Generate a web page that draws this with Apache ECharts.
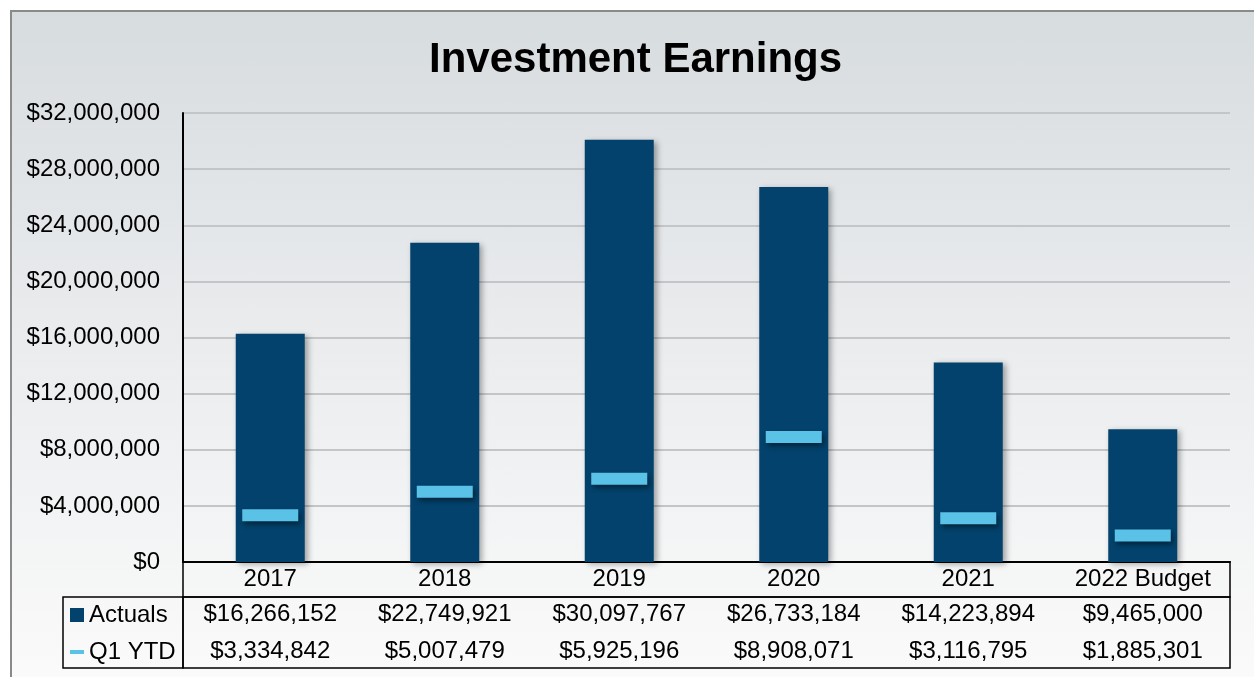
<!DOCTYPE html>
<html>
<head>
<meta charset="utf-8">
<title>Investment Earnings</title>
<script src="https://cdn.jsdelivr.net/npm/echarts@6/dist/echarts.min.js"></script>
</head>
<body style="margin:0; width:1254px; height:677px; overflow:hidden; background:#fff">
<div style="position:absolute; left:10px; top:10px; width:1260px; height:680px; border-left:2px solid #8a8a8a; border-top:2px solid #8a8a8a; background:linear-gradient(to bottom, #d7dcdf 0%, #e9ebed 45%, #fbfbfb 100%)"></div>
<div id="container" style="position:absolute; left:0; top:0; width:1254px; height:677px"></div>
<script type="text/javascript">
// data
var categories = ['2017', '2018', '2019', '2020', '2021', '2022 Budget'];
var actuals = [16266152, 22749921, 30097767, 26733184, 14223894, 9465000];
var q1ytd = [3334842, 5007479, 5925196, 8908071, 3116795, 1885301];

var FONT = '"Liberation Sans", Arial, sans-serif';

function money(v) {
	return '$' + Number(v).toLocaleString('en-US');
}

var myChart = echarts.init(document.getElementById('container'));

var option = {
	backgroundColor : 'transparent',
	animation : false,
	title : {
		text : 'Investment Earnings',
		left : 424,
		top : 34,
		textStyle : {
			fontFamily : FONT,
			fontSize : 42,
			fontWeight : 'bold',
			color : '#000'
		}
	},
	legend : {
		orient : 'vertical',
		left : 65,
		top : 598,
		itemWidth : 14,
		itemHeight : 14,
		itemGap : 13,
		selectedMode : false,
		textStyle : {
			fontFamily : FONT,
			fontSize : 24,
			color : '#000'
		},
		data : [ {
			name : 'Actuals',
			icon : 'rect'
		}, {
			name : 'Q1 YTD',
			icon : 'path://M0,0H14V4H0Z'
		} ]
	},
	grid : [ {
		// plot area
		left : 183,
		right : 24,
		top : 113,
		bottom : 115
	}, {
		// header row of the data table
		left : 183,
		right : 24,
		top : 562,
		height : 35,
		show : true,
		borderColor : '#000',
		borderWidth : 1.5,
		backgroundColor : 'transparent'
	}, {
		// value rows of the data table
		left : 183,
		right : 24,
		top : 597,
		height : 71,
		show : true,
		borderColor : '#000',
		borderWidth : 1.5,
		backgroundColor : 'transparent'
	}, {
		// legend column
		left : 63,
		width : 120,
		top : 597,
		height : 71,
		show : true,
		borderColor : '#000',
		borderWidth : 1.5,
		backgroundColor : 'transparent'
	} ],
	xAxis : [ {
		type : 'category',
		gridIndex : 0,
		data : categories,
		axisLine : {
			lineStyle : {
				color : '#000',
				width : 2
			}
		},
		axisTick : {
			show : false
		},
		axisLabel : {
			interval : 0,
			margin : 5,
			fontFamily : FONT,
			fontSize : 24,
			color : '#000'
		}
	}, {
		type : 'category',
		gridIndex : 1,
		data : categories,
		show : false
	}, {
		type : 'category',
		gridIndex : 2,
		position : 'top',
		data : categories,
		axisLine : {
			show : false
		},
		axisTick : {
			show : false
		},
		axisLabel : {
			interval : 0,
			inside : true,
			margin : 5,
			fontFamily : FONT,
			fontSize : 24,
			color : '#000',
			formatter : function(v, i) {
				return money(actuals[i]);
			}
		}
	}, {
		type : 'category',
		gridIndex : 2,
		position : 'bottom',
		data : categories,
		axisLine : {
			show : false
		},
		axisTick : {
			show : false
		},
		axisLabel : {
			interval : 0,
			inside : true,
			margin : 5,
			fontFamily : FONT,
			fontSize : 24,
			color : '#000',
			formatter : function(v, i) {
				return money(q1ytd[i]);
			}
		}
	}, {
		type : 'category',
		gridIndex : 3,
		data : ['a'],
		show : false
	} ],
	yAxis : [ {
		type : 'value',
		gridIndex : 0,
		min : 0,
		max : 32000000,
		interval : 4000000,
		axisLine : {
			show : true,
			lineStyle : {
				color : '#000',
				width : 2
			}
		},
		axisTick : {
			show : false
		},
		splitLine : {
			lineStyle : {
				color : '#c3c5c7',
				width : 2
			}
		},
		axisLabel : {
			margin : 23,
			fontFamily : FONT,
			fontSize : 24,
			color : '#000',
			formatter : money
		}
	}, {
		type : 'value',
		gridIndex : 1,
		show : false
	}, {
		type : 'value',
		gridIndex : 2,
		show : false
	}, {
		type : 'value',
		gridIndex : 3,
		show : false
	} ],
	series : [ {
		name : 'Actuals',
		type : 'bar',
		xAxisIndex : 0,
		yAxisIndex : 0,
		data : actuals,
		barWidth : 69,
		itemStyle : {
			color : '#03426c',
			shadowColor : 'rgba(0,0,0,0.35)',
			shadowBlur : 6,
			shadowOffsetX : 3,
			shadowOffsetY : 2
		}
	}, {
		name : 'Q1 YTD',
		type : 'scatter',
		xAxisIndex : 0,
		yAxisIndex : 0,
		data : q1ytd,
		symbol : 'rect',
		symbolSize : [ 56, 12 ],
		z : 5,
		itemStyle : {
			color : '#5bc2e7',
			opacity : 1,
			shadowColor : 'rgba(0,0,0,0.45)',
			shadowBlur : 5,
			shadowOffsetX : 2,
			shadowOffsetY : 3
		}
	} ]
};

myChart.setOption(option);
</script>
</body>
</html>
